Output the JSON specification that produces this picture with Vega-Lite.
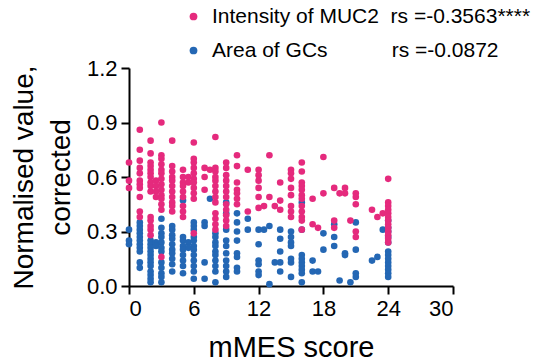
{
  "$schema": "https://vega.github.io/schema/vega-lite/v6.json",
  "autosize": {"type": "none"},
  "width": 324,
  "height": 218,
  "padding": {"left": 129, "top": 68, "right": 89, "bottom": 76},
  "background": "white",
  "config": {
    "view": {"stroke": null},
    "font": "Liberation Sans",
    "axis": {"grid": false, "domainColor": "black", "domainWidth": 2, "tickColor": "black", "tickWidth": 2, "tickSize": 8, "labelFontSize": 22, "labelColor": "black", "titleFontSize": 28, "titleFontWeight": "normal", "titleColor": "black", "labelFont": "Liberation Sans", "titleFont": "Liberation Sans"},
    "legend": {"labelFont": "Liberation Sans"}
  },
  "data": {"values": [
    {"s":"G","x":0,"v":0.31},{"s":"G","x":0,"v":0.25},{"s":"G","x":0,"v":0.23},
    {"s":"G","x":1,"v":0.35},{"s":"G","x":1,"v":0.33},{"s":"G","x":1,"v":0.31},{"s":"G","x":1,"v":0.29},{"s":"G","x":1,"v":0.27},{"s":"G","x":1,"v":0.25},{"s":"G","x":1,"v":0.23},{"s":"G","x":1,"v":0.21},{"s":"G","x":1,"v":0.19},{"s":"G","x":1,"v":0.13},{"s":"G","x":1,"v":0.10},
    {"s":"G","x":2,"v":0.25},{"s":"G","x":2,"v":0.23},{"s":"G","x":2,"v":0.21},{"s":"G","x":2,"v":0.19},{"s":"G","x":2,"v":0.17},{"s":"G","x":2,"v":0.15},{"s":"G","x":2,"v":0.13},{"s":"G","x":2,"v":0.11},{"s":"G","x":2,"v":0.08},{"s":"G","x":2,"v":0.06},{"s":"G","x":2,"v":0.04},{"s":"G","x":2,"v":0.02},
    {"s":"G","x":2.5,"v":0.24},{"s":"G","x":2.5,"v":0.22},
    {"s":"G","x":3,"v":0.37},{"s":"G","x":3,"v":0.32},{"s":"G","x":3,"v":0.29},{"s":"G","x":3,"v":0.27},{"s":"G","x":3,"v":0.24},{"s":"G","x":3,"v":0.21},{"s":"G","x":3,"v":0.19},{"s":"G","x":3,"v":0.13},{"s":"G","x":3,"v":0.10},{"s":"G","x":3,"v":0.07},{"s":"G","x":3,"v":0.05},{"s":"G","x":3,"v":0.02},
    {"s":"G","x":4,"v":0.33},{"s":"G","x":4,"v":0.31},{"s":"G","x":4,"v":0.28},{"s":"G","x":4,"v":0.26},{"s":"G","x":4,"v":0.23},{"s":"G","x":4,"v":0.20},{"s":"G","x":4,"v":0.18},{"s":"G","x":4,"v":0.15},{"s":"G","x":4,"v":0.12},{"s":"G","x":4,"v":0.08},
    {"s":"G","x":5,"v":0.47},{"s":"G","x":5,"v":0.27},{"s":"G","x":5,"v":0.25},{"s":"G","x":5,"v":0.22},{"s":"G","x":5,"v":0.20},{"s":"G","x":5,"v":0.17},{"s":"G","x":5,"v":0.14},{"s":"G","x":5,"v":0.11},{"s":"G","x":5,"v":0.07},
    {"s":"G","x":5.5,"v":0.24},{"s":"G","x":5.5,"v":0.21},
    {"s":"G","x":6,"v":0.35},{"s":"G","x":6,"v":0.33},{"s":"G","x":6,"v":0.31},{"s":"G","x":6,"v":0.27},{"s":"G","x":6,"v":0.25},{"s":"G","x":6,"v":0.22},{"s":"G","x":6,"v":0.20},{"s":"G","x":6,"v":0.17},{"s":"G","x":6,"v":0.14},{"s":"G","x":6,"v":0.11},{"s":"G","x":6,"v":0.08},{"s":"G","x":6,"v":0.04},
    {"s":"G","x":7,"v":0.35},{"s":"G","x":7,"v":0.33},{"s":"G","x":7,"v":0.13},{"s":"G","x":7,"v":0.04},
    {"s":"G","x":7.5,"v":0.48},
    {"s":"G","x":8,"v":0.29},{"s":"G","x":8,"v":0.27},{"s":"G","x":8,"v":0.24},{"s":"G","x":8,"v":0.22},{"s":"G","x":8,"v":0.19},{"s":"G","x":8,"v":0.17},{"s":"G","x":8,"v":0.14},{"s":"G","x":8,"v":0.11},{"s":"G","x":8,"v":0.08},{"s":"G","x":8,"v":0.02},
    {"s":"G","x":9,"v":0.46},{"s":"G","x":9,"v":0.40},{"s":"G","x":9,"v":0.31},{"s":"G","x":9,"v":0.25},{"s":"G","x":9,"v":0.22},{"s":"G","x":9,"v":0.18},{"s":"G","x":9,"v":0.14},{"s":"G","x":9,"v":0.11},{"s":"G","x":9,"v":0.08},{"s":"G","x":9,"v":0.05},
    {"s":"G","x":10,"v":0.40},{"s":"G","x":10,"v":0.35},{"s":"G","x":10,"v":0.30},{"s":"G","x":10,"v":0.25},{"s":"G","x":10,"v":0.18},{"s":"G","x":10,"v":0.16},{"s":"G","x":10,"v":0.10},{"s":"G","x":10,"v":0.08},
    {"s":"G","x":11,"v":0.37},{"s":"G","x":11,"v":0.31},
    {"s":"G","x":12,"v":0.31},{"s":"G","x":12,"v":0.23},{"s":"G","x":12,"v":0.14},{"s":"G","x":12,"v":0.12},{"s":"G","x":12,"v":0.08},{"s":"G","x":12,"v":0.06},
    {"s":"G","x":12.5,"v":0.31},
    {"s":"G","x":13,"v":0.33},{"s":"G","x":13,"v":0.01},
    {"s":"G","x":13.5,"v":0.13},
    {"s":"G","x":14,"v":0.31},{"s":"G","x":14,"v":0.26},{"s":"G","x":14,"v":0.19},{"s":"G","x":14,"v":0.13},{"s":"G","x":14,"v":0.08},
    {"s":"G","x":15,"v":0.30},{"s":"G","x":15,"v":0.27},{"s":"G","x":15,"v":0.24},{"s":"G","x":15,"v":0.22},{"s":"G","x":15,"v":0.15},{"s":"G","x":15,"v":0.13},{"s":"G","x":15,"v":0.05},
    {"s":"G","x":16,"v":0.46},{"s":"G","x":16,"v":0.31},{"s":"G","x":16,"v":0.17},{"s":"G","x":16,"v":0.15},{"s":"G","x":16,"v":0.13},{"s":"G","x":16,"v":0.11},{"s":"G","x":16,"v":0.09},{"s":"G","x":16,"v":0.07},{"s":"G","x":16,"v":0.02},
    {"s":"G","x":17,"v":0.14},{"s":"G","x":17,"v":0.08},
    {"s":"G","x":17.5,"v":0.08},
    {"s":"G","x":18,"v":0.29},{"s":"G","x":18,"v":0.20},
    {"s":"G","x":19,"v":0.34},{"s":"G","x":19,"v":0.27},{"s":"G","x":19,"v":0.22},
    {"s":"G","x":19.5,"v":0.03},
    {"s":"G","x":20,"v":0.18},{"s":"G","x":20,"v":0.17},
    {"s":"G","x":20.5,"v":0.02},
    {"s":"G","x":21,"v":0.35},{"s":"G","x":21,"v":0.20},{"s":"G","x":21,"v":0.07},{"s":"G","x":21,"v":0.05},
    {"s":"G","x":22.5,"v":0.14},
    {"s":"G","x":23,"v":0.16},
    {"s":"G","x":23.5,"v":0.31},
    {"s":"G","x":24,"v":0.36},{"s":"G","x":24,"v":0.32},{"s":"G","x":24,"v":0.30},{"s":"G","x":24,"v":0.27},{"s":"G","x":24,"v":0.24},{"s":"G","x":24,"v":0.19},{"s":"G","x":24,"v":0.17},{"s":"G","x":24,"v":0.15},{"s":"G","x":24,"v":0.13},{"s":"G","x":24,"v":0.11},{"s":"G","x":24,"v":0.09},{"s":"G","x":24,"v":0.07},{"s":"G","x":24,"v":0.05},
    {"s":"M","x":0,"v":0.68},{"s":"M","x":0,"v":0.58},{"s":"M","x":0,"v":0.54},
    {"s":"M","x":1,"v":0.86},{"s":"M","x":1,"v":0.75},{"s":"M","x":1,"v":0.69},{"s":"M","x":1,"v":0.65},{"s":"M","x":1,"v":0.62},{"s":"M","x":1,"v":0.58},{"s":"M","x":1,"v":0.56},{"s":"M","x":1,"v":0.54},{"s":"M","x":1,"v":0.49},{"s":"M","x":1,"v":0.41},{"s":"M","x":1,"v":0.38},
    {"s":"M","x":2,"v":0.80},{"s":"M","x":2,"v":0.73},{"s":"M","x":2,"v":0.68},{"s":"M","x":2,"v":0.66},{"s":"M","x":2,"v":0.64},{"s":"M","x":2,"v":0.62},{"s":"M","x":2,"v":0.60},{"s":"M","x":2,"v":0.57},{"s":"M","x":2,"v":0.55},{"s":"M","x":2,"v":0.52},{"s":"M","x":2,"v":0.38},{"s":"M","x":2,"v":0.36},{"s":"M","x":2,"v":0.33},{"s":"M","x":2,"v":0.31},{"s":"M","x":2,"v":0.28},
    {"s":"M","x":2.5,"v":0.58},{"s":"M","x":2.5,"v":0.55},{"s":"M","x":2.5,"v":0.52},{"s":"M","x":2.5,"v":0.49},
    {"s":"M","x":3,"v":0.90},{"s":"M","x":3,"v":0.72},{"s":"M","x":3,"v":0.70},{"s":"M","x":3,"v":0.67},{"s":"M","x":3,"v":0.64},{"s":"M","x":3,"v":0.62},{"s":"M","x":3,"v":0.59},{"s":"M","x":3,"v":0.56},{"s":"M","x":3,"v":0.53},{"s":"M","x":3,"v":0.50},{"s":"M","x":3,"v":0.48},{"s":"M","x":3,"v":0.45},{"s":"M","x":3,"v":0.42},{"s":"M","x":3,"v":0.16},
    {"s":"M","x":4,"v":0.80},{"s":"M","x":4,"v":0.66},{"s":"M","x":4,"v":0.63},{"s":"M","x":4,"v":0.60},{"s":"M","x":4,"v":0.58},{"s":"M","x":4,"v":0.55},{"s":"M","x":4,"v":0.52},{"s":"M","x":4,"v":0.49},{"s":"M","x":4,"v":0.46},{"s":"M","x":4,"v":0.44},{"s":"M","x":4,"v":0.41},
    {"s":"M","x":5,"v":0.64},{"s":"M","x":5,"v":0.60},{"s":"M","x":5,"v":0.57},{"s":"M","x":5,"v":0.55},{"s":"M","x":5,"v":0.52},{"s":"M","x":5,"v":0.49},{"s":"M","x":5,"v":0.44},{"s":"M","x":5,"v":0.41},{"s":"M","x":5,"v":0.38},
    {"s":"M","x":5.5,"v":0.60},{"s":"M","x":5.5,"v":0.57},
    {"s":"M","x":6,"v":0.79},{"s":"M","x":6,"v":0.70},{"s":"M","x":6,"v":0.68},{"s":"M","x":6,"v":0.65},{"s":"M","x":6,"v":0.62},{"s":"M","x":6,"v":0.59},{"s":"M","x":6,"v":0.57},{"s":"M","x":6,"v":0.54},{"s":"M","x":6,"v":0.51},{"s":"M","x":6,"v":0.48},{"s":"M","x":6,"v":0.29},
    {"s":"M","x":7,"v":0.65},{"s":"M","x":7,"v":0.60},{"s":"M","x":7,"v":0.53},
    {"s":"M","x":7.5,"v":0.64},
    {"s":"M","x":8,"v":0.82},{"s":"M","x":8,"v":0.65},{"s":"M","x":8,"v":0.63},{"s":"M","x":8,"v":0.60},{"s":"M","x":8,"v":0.58},{"s":"M","x":8,"v":0.55},{"s":"M","x":8,"v":0.52},{"s":"M","x":8,"v":0.49},{"s":"M","x":8,"v":0.46},{"s":"M","x":8,"v":0.40},{"s":"M","x":8,"v":0.37},{"s":"M","x":8,"v":0.34},{"s":"M","x":8,"v":0.31},
    {"s":"M","x":9,"v":0.68},{"s":"M","x":9,"v":0.65},{"s":"M","x":9,"v":0.61},{"s":"M","x":9,"v":0.58},{"s":"M","x":9,"v":0.55},{"s":"M","x":9,"v":0.52},{"s":"M","x":9,"v":0.49},{"s":"M","x":9,"v":0.45},{"s":"M","x":9,"v":0.42},{"s":"M","x":9,"v":0.39},{"s":"M","x":9,"v":0.36},{"s":"M","x":9,"v":0.33},
    {"s":"M","x":10,"v":0.72},{"s":"M","x":10,"v":0.66},{"s":"M","x":10,"v":0.57},{"s":"M","x":10,"v":0.53},{"s":"M","x":10,"v":0.51},{"s":"M","x":10,"v":0.48},{"s":"M","x":10,"v":0.45},
    {"s":"M","x":11,"v":0.64},{"s":"M","x":11,"v":0.41},
    {"s":"M","x":12,"v":0.64},{"s":"M","x":12,"v":0.61},{"s":"M","x":12,"v":0.58},{"s":"M","x":12,"v":0.54},{"s":"M","x":12,"v":0.49},{"s":"M","x":12,"v":0.43},
    {"s":"M","x":12.5,"v":0.44},
    {"s":"M","x":13,"v":0.72},{"s":"M","x":13,"v":0.49},
    {"s":"M","x":13.5,"v":0.44},
    {"s":"M","x":14,"v":0.57},{"s":"M","x":14,"v":0.47},{"s":"M","x":14,"v":0.42},
    {"s":"M","x":15,"v":0.64},{"s":"M","x":15,"v":0.62},{"s":"M","x":15,"v":0.59},{"s":"M","x":15,"v":0.54},{"s":"M","x":15,"v":0.50},{"s":"M","x":15,"v":0.44},{"s":"M","x":15,"v":0.41},{"s":"M","x":15,"v":0.38},
    {"s":"M","x":16,"v":0.68},{"s":"M","x":16,"v":0.63},{"s":"M","x":16,"v":0.57},{"s":"M","x":16,"v":0.55},{"s":"M","x":16,"v":0.53},{"s":"M","x":16,"v":0.50},{"s":"M","x":16,"v":0.48},{"s":"M","x":16,"v":0.44},{"s":"M","x":16,"v":0.41},{"s":"M","x":16,"v":0.38},{"s":"M","x":16,"v":0.36},{"s":"M","x":16,"v":0.31},
    {"s":"M","x":17,"v":0.48},{"s":"M","x":17,"v":0.34},
    {"s":"M","x":17.5,"v":0.32},
    {"s":"M","x":18,"v":0.71},{"s":"M","x":18,"v":0.51},
    {"s":"M","x":19,"v":0.54},{"s":"M","x":19,"v":0.36},{"s":"M","x":19,"v":0.32},
    {"s":"M","x":19.5,"v":0.51},
    {"s":"M","x":20,"v":0.54},{"s":"M","x":20,"v":0.51},
    {"s":"M","x":20.5,"v":0.36},
    {"s":"M","x":21,"v":0.51},{"s":"M","x":21,"v":0.49},{"s":"M","x":21,"v":0.45},{"s":"M","x":21,"v":0.30},{"s":"M","x":21,"v":0.27},
    {"s":"M","x":22.5,"v":0.42},
    {"s":"M","x":23,"v":0.38},
    {"s":"M","x":23.5,"v":0.40},
    {"s":"M","x":24,"v":0.59},{"s":"M","x":24,"v":0.46},{"s":"M","x":24,"v":0.44},{"s":"M","x":24,"v":0.42},{"s":"M","x":24,"v":0.40},{"s":"M","x":24,"v":0.38},{"s":"M","x":24,"v":0.36},{"s":"M","x":24,"v":0.34},{"s":"M","x":24,"v":0.32},{"s":"M","x":24,"v":0.30},{"s":"M","x":24,"v":0.28},{"s":"M","x":24,"v":0.26},{"s":"M","x":24,"v":0.24}
  ]},
  "mark": {"type": "circle", "size": 44, "opacity": 1},
  "encoding": {
    "x": {"field": "x", "type": "quantitative", "scale": {"domain": [0, 30], "nice": false, "zero": true}, "axis": {"values": [0, 6, 12, 18, 24, 30], "title": "mMES score", "titleFontSize": 29, "labelPadding": 4, "titlePadding": 14}},
    "y": {"field": "v", "type": "quantitative", "scale": {"domain": [0, 1.2], "nice": false}, "axis": {"values": [0, 0.3, 0.6, 0.9, 1.2], "format": ".1f", "title": ["Normalised value,", "corrected"], "titleLineHeight": 37, "titlePadding": 11, "labelPadding": 4}},
    "color": {"field": "s", "type": "nominal", "scale": {"domain": ["M", "G"], "range": ["#E52A7D", "#2467B4"]}, "legend": {"orient": "none", "legendX": 54, "legendY": -62, "title": null, "padding": 0, "symbolType": "circle", "symbolSize": 60, "symbolOpacity": 1, "labelFontSize": 21, "labelColor": "black", "labelOffset": 8, "rowPadding": 12, "labelLimit": 500, "labelExpr": "datum.label == 'M' ? 'Intensity of MUC2\u00a0\u00a0rs =-0.3563****' : 'Area of GCs\u00a0\u00a0\u00a0\u00a0\u00a0\u00a0\u00a0\u00a0\u00a0\u00a0\u00a0rs =-0.0872'"}}
  }
}
